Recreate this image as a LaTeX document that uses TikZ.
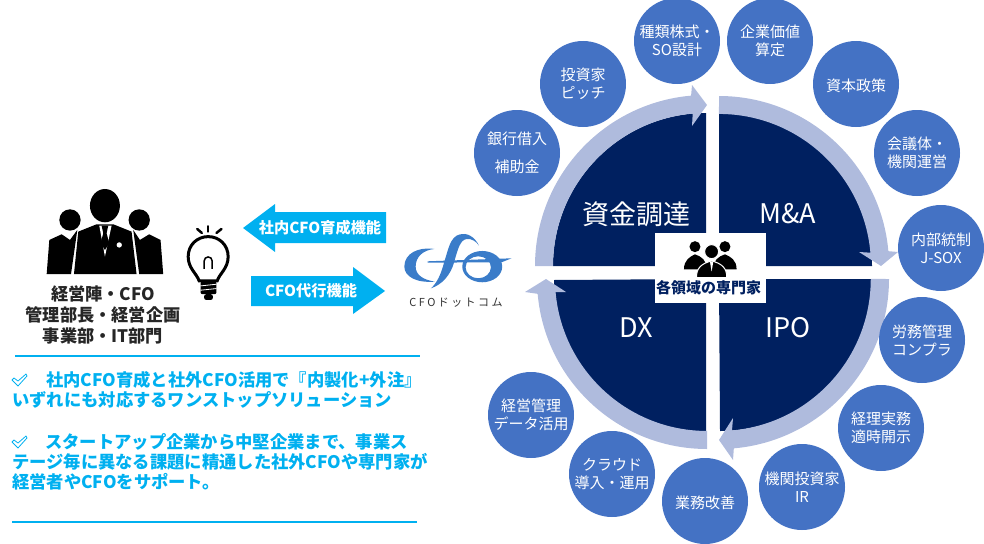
\documentclass[tikz,border=0pt]{standalone}
\usepackage{fontspec}
\setmainfont{Noto Sans CJK JP}
\newfontfamily\logofont[LetterSpace=22]{Noto Sans CJK JP}
\definecolor{navyfill}{HTML}{002060}
\definecolor{ringfill}{HTML}{AFBBDD}
\definecolor{ballfill}{HTML}{4472C4}
\definecolor{skyfill}{HTML}{00B0F0}
\definecolor{logofill}{HTML}{3A7CC9}
\tikzset{
  ball/.style={circle,fill=ballfill,text=white,minimum size=86pt,inner sep=0pt,align=center,font=\fontsize{15}{18}\selectfont,execute at begin node=\rule{0pt}{15.5pt}},
  quarter/.style={text=white,font=\fontsize{27}{30}\selectfont},
  banner/.style={text=white,font=\bfseries\fontsize{15.2}{17}\selectfont},
  note/.style={anchor=west,inner sep=0pt,text=skyfill,font=\bfseries\fontsize{17.3}{20}\selectfont},
  whoname/.style={align=center,text=black!85,font=\bfseries\fontsize{17.2}{21}\selectfont}
}
\begin{document}
\begin{tikzpicture}[x=1pt,y=-1pt]
\useasboundingbox (0,0) rectangle (984,543);
\clip (0,0) rectangle (984,543);
\fill[navyfill] (719,266) -- (719,113) arc[start angle=90,end angle=0,radius=153pt] -- cycle;
\fill[navyfill] (706,266) -- (553,266) arc[start angle=180,end angle=90,radius=153pt] -- cycle;
\fill[navyfill] (706,279) -- (706,432) arc[start angle=-90,end angle=-180,radius=152pt] -- cycle;
\fill[navyfill] (719,279) -- (872,279) arc[start angle=0,end angle=-90,radius=152pt] -- cycle;
\fill[ringfill] (719,96) arc[start angle=90,end angle=5,radius=170pt] -- (898,252) -- (881,266) -- (859,252) -- (870.4,252.7) arc[start angle=5,end angle=90,radius=152pt] -- cycle;
\fill[ringfill] (535,266) arc[start angle=180,end angle=95,radius=171pt] -- (692,85) -- (707,105) -- (692,126) -- (692.7,113.6) arc[start angle=95,end angle=180,radius=153pt] -- cycle;
\fill[ringfill] (889,279) arc[start angle=0,end angle=-85,radius=170pt] -- (733,460) -- (719,440) -- (733,418) -- (732,430.4) arc[start angle=-85,end angle=0,radius=152pt] -- cycle;
\fill[ringfill] (707,449) arc[start angle=-90,end angle=-175,radius=170pt] -- (525,292) -- (546,279) -- (566,292) -- (555.6,292.2) arc[start angle=-175,end angle=-90,radius=152pt] -- cycle;
\node[quarter] (fund) at (636,214) {資金調達};
\node[quarter] (mna) at (788,214) {M\&A};
\node[quarter] (dx) at (636,328) {DX};
\node[quarter] (ipo) at (788,328) {IPO};
\fill[white] (655,233) rectangle (766,303);
\begin{scope}[shift={(660,235)},x=0.333pt,y=-0.333pt]
\fill (105,35) circle[radius=5.5pt];
\fill (195,35) circle[radius=5.5pt];
\fill (72,103) .. controls (72,75) and (90,65) .. (105,58) .. controls (125,65) and (140,75) .. (140,103) -- cycle;
\fill (160,103) .. controls (160,75) and (175,65) .. (195,58) .. controls (212,65) and (230,75) .. (230,103) -- cycle;
\fill[draw=white,line width=1pt] (155,50) circle[radius=7pt];
\fill[draw=white,line width=1pt] (110,128) .. controls (108,100) and (125,85) .. (155,78) .. controls (185,85) and (202,100) .. (200,128) -- cycle;
\fill[white] (150,80) -- (160,80) -- (155,110) -- cycle;
\end{scope}
\node[text=navyfill,font=\bfseries\fontsize{15}{16}\selectfont,inner sep=0pt] (expert) at (708.5,288) {各領域の専門家};
\node[ball] (bank) at (517,153) {銀行借入\\[10pt]補助金};
\node[ball] (pitch) at (583,84) {投資家\\ピッチ};
\node[ball] (stock) at (677,41) {種類株式・\\SO設計};
\node[ball] (value) at (770,41) {企業価値\\算定};
\node[ball] (capital) at (856,84) {資本政策};
\node[ball] (board) at (917,153) {会議体・\\機関運営};
\node[ball] (jsox) at (941,248) {内部統制\\J-SOX};
\node[ball] (labor) at (922,340) {労務管理\\コンプラ};
\node[ball] (account) at (881,428) {経理実務\\適時開示};
\node[ball] (investor) at (802,487) {機関投資家\\IR};
\node[ball] (process) at (705,501) {業務改善};
\node[ball] (cloud) at (612,474) {クラウド\\導入・運用};
\node[ball] (data) at (531,415) {経営管理\\データ活用};
\fill[skyfill] (243,228) -- (275,204) -- (275,212) -- (386,212) -- (386,243) -- (275,243) -- (275,252) -- cycle;
\fill[skyfill] (385,291) -- (353,267) -- (353,276) -- (251,276) -- (251,306) -- (353,306) -- (353,314) -- cycle;
\node[banner] (inhouse) at (320,228) {社内CFO育成機能};
\node[banner] (agent) at (311,291) {CFO代行機能};
\begin{scope}[shift={(40,185)},x=0.333pt,y=-0.333pt]
\fill (195,62) ellipse[x radius=45,y radius=50];
\fill (90,105) circle[radius=32];
\fill (298,105) circle[radius=32];
\fill (20,268) -- (28,165) -- (65,148) -- (90,165) -- (112,135) -- (93,268) -- cycle;
\fill (370,268) -- (362,165) -- (328,148) -- (300,165) -- (280,135) -- (298,268) -- cycle;
\fill (102,268) -- (115,140) -- (170,118) -- (220,118) -- (275,140) -- (290,268) -- cycle;
\fill[white] (178,122) -- (195,215) -- (215,122) -- cycle;
\fill (185,122) -- (205,122) -- (200,145) -- (208,175) -- (195,195) -- (182,175) -- (190,145) -- cycle;
\fill[white] (238,180) circle[radius=8];
\draw[line width=3pt] (478,288) .. controls (470,265) and (445,250) .. (445,215) .. controls (445,180) and (472,155) .. (505,155) .. controls (538,155) and (565,180) .. (565,215) .. controls (565,250) and (540,265) .. (532,288) -- cycle;
\draw[line width=2.5pt,line cap=round] (505,124) -- (505,140);
\draw[line width=2.5pt,line cap=round] (472,132) -- (486,144);
\draw[line width=2.5pt,line cap=round] (545,132) -- (530,144);
\draw[line width=1.5pt] (493,252) -- (493,228) arc[start angle=180,end angle=0,radius=4pt] -- (517,252);
\fill[rounded corners=2pt] (482,290) rectangle (530,328);
\fill[rounded corners=2pt] (493,328) rectangle (519,345);
\draw[white,line width=0.8pt] (482,303) -- (530,298);
\draw[white,line width=0.8pt] (482,316) -- (530,311);
\end{scope}
\node[whoname] (who) at (103,314.5) {経営陣・CFO\\管理部長・経営企画\\事業部・IT部門};
\begin{scope}[shift={(395,225)},x=0.333pt,y=-0.333pt,logofill]
\fill (118,72) .. controls (70,65) and (28,85) .. (28,125) .. controls (28,155) and (65,175) .. (120,170) .. controls (85,165) and (62,150) .. (62,125) .. controls (62,95) and (85,75) .. (118,72) -- cycle;
\fill (252,62) .. controls (240,35) and (215,22) .. (195,28) .. controls (165,35) and (160,75) .. (148,110) .. controls (138,150) and (125,175) .. (108,190) .. controls (140,180) and (168,150) .. (178,110) .. controls (188,75) and (195,45) .. (215,42) .. controls (230,40) and (245,50) .. (252,62) -- cycle;
\fill[even odd rule] (262,125) ellipse[x radius=60,y radius=47] (250,127) ellipse[x radius=38,y radius=33];
\fill (98,109) -- (350,100) -- (320,112) -- (98,113) -- cycle;
\end{scope}
\node[inner sep=0pt,text=black!80,font=\logofont\fontsize{11}{12}\selectfont] (brand) at (456,303) {CFOドットコム};
\draw[skyfill,line width=2.5pt] (15,356) -- (420,356);
\draw[skyfill,line width=2.5pt] (12,522) -- (417,522);
\foreach \cy in {380,442}
  \draw[skyfill,line width=0.8pt,line join=round] (12,\cy) -- (14,{\cy-2}) -- (18,{\cy+1}) -- (26,{\cy-6}) -- (27,{\cy-4}) -- (18,{\cy+6}) -- cycle;
\node[note] (line1) at (46,380) {社内CFO育成と社外CFO活用で『内製化+外注』};
\node[note] (line2) at (12,400) {いずれにも対応するワンストップソリューション};
\node[note] (line3) at (45,442) {スタートアップ企業から中堅企業まで、事業ス};
\node[note] (line4) at (12,462) {テージ毎に異なる課題に精通した社外CFOや専門家が};
\node[note] (line5) at (12,482) {経営者やCFOをサポート。};
\end{tikzpicture}
\end{document}
